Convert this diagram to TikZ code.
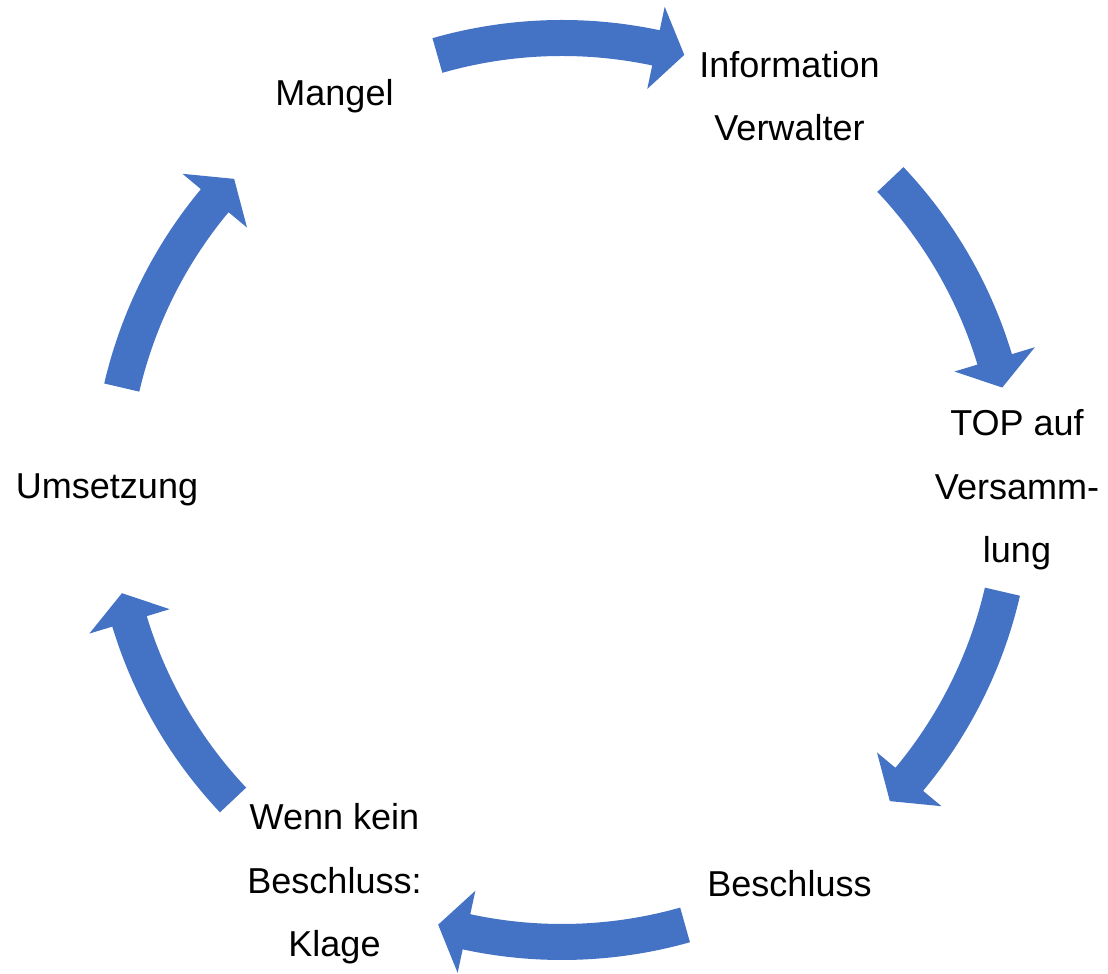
\documentclass[tikz,border=0pt]{standalone}
\usepackage{fontspec}
\setmainfont{Liberation Sans}
\definecolor{cycleblue}{HTML}{4472C4}
\tikzset{
  cyclabel/.style={align=center, inner sep=0pt, font=\fontsize{20.5}{36.2}\selectfont},
  cycarrow/.style={fill=cycleblue, draw=none}
}

\begin{document}
\begin{tikzpicture}[x=0.02cm, y=0.02cm]
\useasboundingbox (-562,-483) rectangle (546,490);
\node[cyclabel] (mangel) at (120:455) {Mangel};
\node[cyclabel] (info) at (60:455) {Information\\Verwalter};
\node[cyclabel] (top) at (0:455) {TOP auf\\Versamm-\\lung};
\node[cyclabel] (beschluss) at (-60:455) {Beschluss};
\node[cyclabel] (klage) at (-120:455) {Wenn kein\\Beschluss:\\Klage};
\node[cyclabel] (umsetzung) at (180:455) {Umsetzung};
% curved block arrows, clockwise
\foreach \s/\e in {106/74.3, 43.4/13.1, -13/-43.5, -74.2/-105.9, -136.7/-166.8, 166.9/136.5}{
  \pgfmathsetmacro{\hd}{\e+3.7}
  \fill[cycarrow] (\s:470) arc[start angle=\s, end angle=\hd, radius=470] -- (\hd:494) -- (\e:452)
    -- (\hd:410) -- (\hd:434) arc[start angle=\hd, end angle=\s, radius=434] -- cycle;
}
\end{tikzpicture}
\end{document}
